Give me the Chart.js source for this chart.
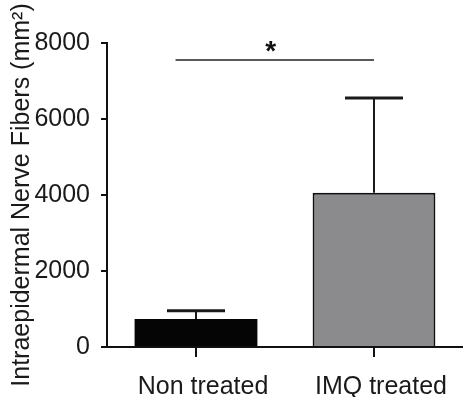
<!DOCTYPE html>
<html>
<head>
<meta charset="utf-8">
<script src="https://cdn.jsdelivr.net/npm/chart.js@4.4.1/dist/chart.umd.min.js"></script>
<style>
  html, body { margin: 0; padding: 0; background: #fff; }
  #c { display: block; }
</style>
</head>
<body>
<canvas id="c" width="463" height="397"></canvas>
<script>
const categories = ['Non treated', 'IMQ treated'];
const means = [740, 4060];
const errorUpper = [215, 2490];
const yTicks = [0, 2000, 4000, 6000, 8000];
const significance = { from: 0, to: 1, level: 7550, label: '*' };

const FONT = '"Liberation Sans", Arial, Helvetica, sans-serif';

const errorBarPlugin = {
  id: 'errorBars',
  afterDatasetsDraw(chart) {
    const ctx = chart.ctx;
    const meta = chart.getDatasetMeta(0);
    const y = chart.scales.y;
    ctx.save();
    ctx.strokeStyle = '#1a1a1a';
    meta.data.forEach((bar, i) => {
      const top = y.getPixelForValue(means[i] + errorUpper[i]);
      const base = y.getPixelForValue(means[i]);
      ctx.lineWidth = 2;
      ctx.beginPath();
      ctx.moveTo(bar.x, base);
      ctx.lineTo(bar.x, top);
      ctx.stroke();
      ctx.lineWidth = 3;
      ctx.beginPath();
      ctx.moveTo(bar.x - 29, top);
      ctx.lineTo(bar.x + 29, top);
      ctx.stroke();
    });
    // significance bracket
    const x = chart.scales.x;
    const cw = x.getPixelForValue(1) - x.getPixelForValue(0);
    const x0 = x.getPixelForValue(significance.from) - 0.115 * cw;
    const x1 = x.getPixelForValue(significance.to);
    const sy = y.getPixelForValue(significance.level);
    ctx.lineWidth = 1.5;
    ctx.strokeStyle = '#222';
    ctx.beginPath();
    ctx.moveTo(x0, sy);
    ctx.lineTo(x1, sy);
    ctx.stroke();
    ctx.fillStyle = '#111';
    ctx.font = 'bold 28px ' + FONT;
    ctx.textAlign = 'center';
    ctx.textBaseline = 'alphabetic';
    ctx.fillText(significance.label, (x0 + x1) / 2 - 4, sy);
    ctx.restore();
  }
};

new Chart(document.getElementById('c'), {
  type: 'bar',
  data: {
    labels: categories,
    datasets: [{
      data: means,
      backgroundColor: ['#050505', '#8b8b8d'],
      borderColor: ['#050505', '#111111'],
      borderWidth: [0, 2],
      borderSkipped: 'start',
      barPercentage: 0.69,
      categoryPercentage: 1
    }]
  },
  options: {
    responsive: false,
    devicePixelRatio: 1,
    animation: false,
    layout: { padding: { top: 43, right: 0, bottom: 0, left: 0 } },
    plugins: { legend: { display: false }, tooltip: { enabled: false } },
    scales: {
      x: {
        offset: true,
        grid: { display: true, drawOnChartArea: false, drawTicks: true, tickLength: 10, color: '#111', lineWidth: 2, offset: false },
        border: { display: true, color: '#111', width: 2 },
        ticks: { color: '#1a1a1a', font: { family: FONT, size: 25 }, padding: 15, maxRotation: 0, labelOffset: 7 },
        afterFit(scale) { scale.height = 50; }
      },
      y: {
        min: 0,
        max: 8000,
        afterBuildTicks(scale) { scale.ticks = yTicks.map(v => ({ value: v })); },
        grid: { display: true, drawOnChartArea: false, drawTicks: true, tickLength: 6, color: '#111', lineWidth: 2 },
        border: { display: true, color: '#111', width: 2 },
        ticks: { color: '#1a1a1a', font: { family: FONT, size: 25 }, padding: 11, callback: v => String(v) },
        title: {
          display: true,
          text: 'Intraepidermal Nerve Fibers (mm²)',
          color: '#1a1a1a',
          font: { family: FONT, size: 25 },
          padding: { top: 7, bottom: 0 }
        },
        afterFit(scale) { scale.width = 107; }
      }
    }
  },
  plugins: [errorBarPlugin]
});
</script>
</body>
</html>
